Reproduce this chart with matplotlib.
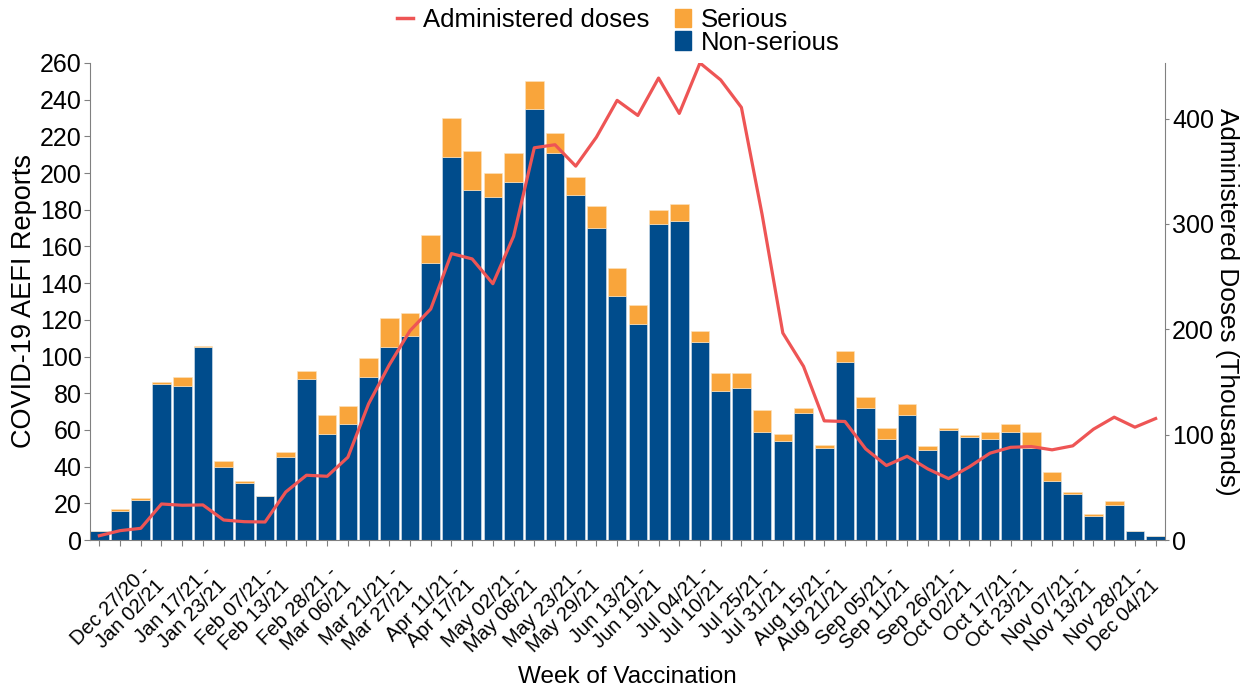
import matplotlib
matplotlib.use('Agg')
import matplotlib.pyplot as plt
from matplotlib.lines import Line2D
from matplotlib.patches import Patch
import numpy as np

plt.rcParams['font.family'] = 'Liberation Sans'

# weekly AEFI reports (Dec 13/20 week .. Dec 05/21 week)
non_serious = [5, 16, 22, 85, 84, 105, 40, 31, 24, 45,
               88, 58, 63, 89, 105, 111, 151, 209, 191, 187,
               195, 235, 211, 188, 170, 133, 118, 172, 174, 108,
               81, 83, 59, 54, 69, 50, 97, 72, 55, 68,
               49, 60, 56, 55, 59, 50, 32, 25, 13, 19,
               5, 2]
serious = [0, 1, 1, 1, 5, 1, 3, 1, 0, 3,
           4, 10, 10, 10, 16, 13, 15, 21, 21, 13,
           16, 15, 11, 10, 12, 15, 10, 8, 9, 6,
           10, 8, 12, 4, 3, 2, 6, 6, 6, 6,
           2, 1, 1, 4, 4, 9, 5, 1, 1, 2,
           0, 0]
# administered doses, thousands
doses = [4.1, 8.9, 11.1, 34.2, 33.0, 33.3, 19.0, 17.4, 17.1, 45.6,
         61.5, 60.5, 78.6, 129.3, 166.3, 198.7, 219.3, 271.9, 266.8, 243.3,
         288.3, 372.3, 375.2, 354.9, 382.4, 417.3, 403.0, 438.5, 404.9, 452.8,
         436.7, 410.6, 308.9, 196.5, 164.8, 113.1, 112.5, 86.5, 70.7, 79.5,
         67.5, 58.3, 69.4, 82.4, 88.0, 88.7, 85.6, 89.4, 105.2, 116.6,
         107.1, 115.3]
week_labels = ['Dec 27/20 -\nJan 02/21', 'Jan 17/21 -\nJan 23/21', 'Feb 07/21 -\nFeb 13/21',
               'Feb 28/21 -\nMar 06/21', 'Mar 21/21 -\nMar 27/21', 'Apr 11/21 -\nApr 17/21',
               'May 02/21 -\nMay 08/21', 'May 23/21 -\nMay 29/21', 'Jun 13/21 -\nJun 19/21',
               'Jul 04/21 -\nJul 10/21', 'Jul 25/21 -\nJul 31/21', 'Aug 15/21 -\nAug 21/21',
               'Sep 05/21 -\nSep 11/21', 'Sep 26/21 -\nOct 02/21', 'Oct 17/21 -\nOct 23/21',
               'Nov 07/21 -\nNov 13/21', 'Nov 28/21 -\nDec 04/21']
first_label = 2
label_step = 3

blue = '#004C8C'
orange = '#F9A53B'
red = '#EE5555'
grey = '#808080'

x = np.arange(len(non_serious))

fig = plt.figure(figsize=(12.47, 6.86), dpi=100)
ax = fig.add_axes([0.0722, 0.2128, 0.8620, 0.6954])

ax.bar(x, non_serious, width=0.9, color=blue, edgecolor='#dde6f0', linewidth=0.4)
ax.bar(x, serious, bottom=non_serious, width=0.9, color=orange, edgecolor='#fbe3c0', linewidth=0.4)
ax.set_xlim(-0.45, len(x) - 0.55)
ax.set_ylim(0, 260)
ax.set_yticks(np.arange(0, 261, 20))
ax.tick_params(axis='y', labelsize=18, length=4, color=grey, pad=2)

labels = [''] * len(x)
for i, lab in enumerate(week_labels):
    labels[first_label + i * label_step] = lab
ax.set_xticks(x)
ax.set_xticklabels(labels, rotation=45, ha='right', va='top', rotation_mode='anchor',
                   fontsize=14.5, linespacing=1.05)
ax.tick_params(axis='x', length=4, color=grey, pad=12)

for s in ['top', 'right']:
    ax.spines[s].set_visible(False)
for s in ['left', 'bottom']:
    ax.spines[s].set_color(grey)

ax.set_ylabel('COVID-19 AEFI Reports', fontsize=19.5, labelpad=2)
ax.set_xlabel('Week of Vaccination', fontsize=17.5)
ax.xaxis.set_label_coords(0.5, -0.265)

ax2 = ax.twinx()
ax2.plot(x, doses, color=red, linewidth=2.3)
ax2.set_ylim(0, max(doses))
ax2.set_yticks([0, 100, 200, 300, 400])
ax2.tick_params(axis='y', labelsize=18, length=3, color=grey, pad=2)
for s in ['top', 'left', 'bottom']:
    ax2.spines[s].set_visible(False)
ax2.spines['right'].set_color(grey)
ax2.set_ylabel('Administered Doses (Thousands)', fontsize=18.8, rotation=270, labelpad=18)

handles = [Line2D([], [], color=red, linewidth=2.5),
           Patch(visible=False),
           Patch(color=orange),
           Patch(color=blue)]
names = ['Administered doses', '', 'Serious', 'Non-serious']
fig.legend(handles, names, loc='upper center', bbox_to_anchor=(0.496, 1.022), ncol=2,
           frameon=False, fontsize=18.5, handlelength=0.6, handleheight=0.75,
           handletextpad=0.4, columnspacing=1.0, labelspacing=-0.05)

fig.savefig('out.png', dpi=100)
